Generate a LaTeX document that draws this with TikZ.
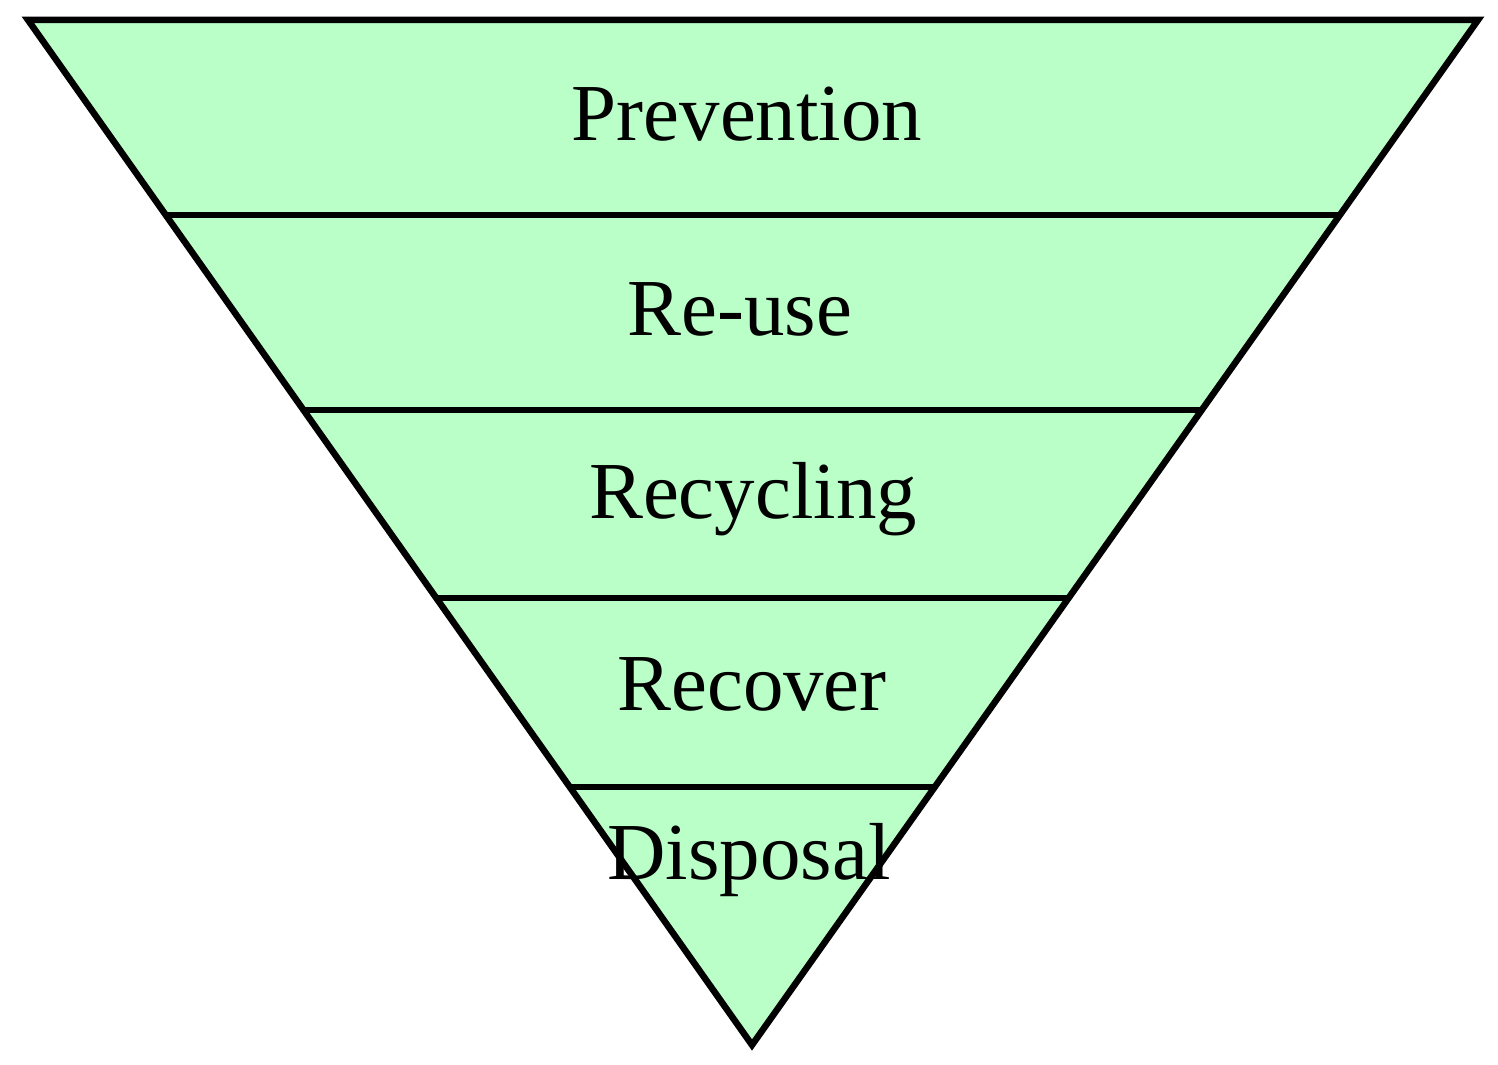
\documentclass[tikz,border=0pt]{standalone}
\usepackage{fontspec}
\setmainfont{Liberation Serif}
\usetikzlibrary{calc}
\definecolor{lg}{RGB}{186,255,200}
\tikzset{lvl/.style={font=\fontsize{23}{27}\selectfont, inner sep=0pt, anchor=base},
         edge/.style={line width=0.065cm, line join=miter}}
\begin{document}
\begin{tikzpicture}[x=0.01cm,y=-0.01cm]
\useasboundingbox (0,0) rectangle (1498,1065);
\coordinate (A) at (28,20);
\coordinate (B) at (1478,20);
\coordinate (C) at (752,1045);
\draw[edge, fill=lg] (A) -- (B) -- (C) -- cycle;
\foreach \t/\n in {0.1902/1,0.3805/2,0.5639/3,0.7483/4}{
  \coordinate (L\n) at ($(A)!\t!(C)$);
  \coordinate (R\n) at ($(B)!\t!(C)$);
  \draw[edge] (L\n) -- (R\n);
}
\node[lvl] (p) at (747,141) {Prevention};
\node[lvl] (r) at (740,336) {Re-use};
\node[lvl] (y) at (753,519) {Recycling};
\node[lvl] (v) at (752,711) {Recover};
\node[lvl] (d) at (749,879) {Disposal};
\end{tikzpicture}
\end{document}
